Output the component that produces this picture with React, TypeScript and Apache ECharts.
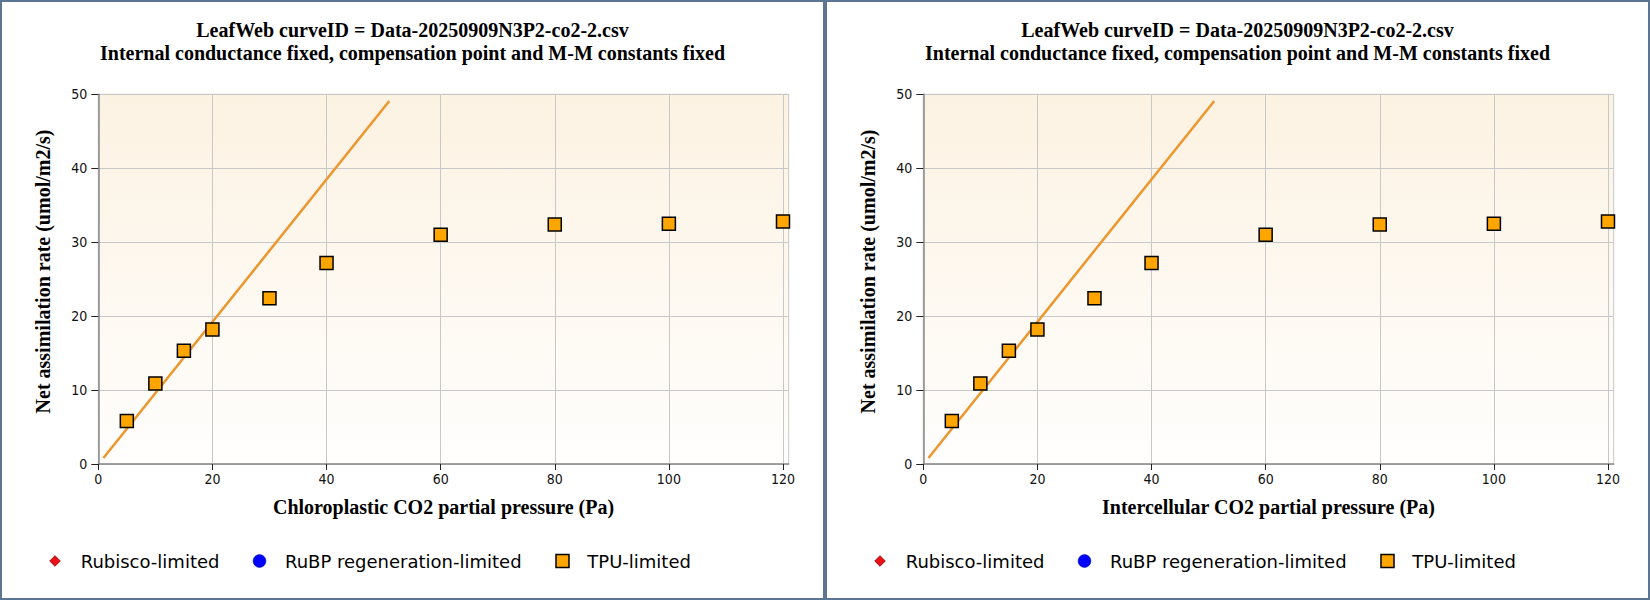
import React, { useEffect, useRef } from "react";
import * as echarts from "echarts";

const pressureValues = [5, 10, 15, 20, 30, 40, 60, 80, 100, 120];
const assimilationValues = [5.8, 10.9, 15.3, 18.2, 22.4, 27.2, 31.0, 32.4, 32.5, 32.8];
const limitLineX = [0.9, 51];
const limitLineY = [0.8, 49.1];
const xTicks = [0, 20, 40, 60, 80, 100, 120];
const yTicks = [0, 10, 20, 30, 40, 50];
const titleLine1 = "LeafWeb curveID = Data-20250909N3P2-co2-2.csv";
const titleLine2 = "Internal conductance fixed, compensation point and M-M constants fixed";
const xAxisNames = ["Chloroplastic CO2 partial pressure (Pa)", "Intercellular CO2 partial pressure (Pa)"];
const yAxisName = "Net assimilation rate (umol/m2/s)";
const legendNames = ["Rubisco-limited", "RuBP regeneration-limited", "TPU-limited"];

const PANEL_W = 825;
const GRID_L = 98.3;
const GRID_T = 94.3;
const GRID_W = 690.4;
const GRID_H = 369.7;
const BORDER = "#5b7593";
const SERIF = "'Liberation Serif', 'Times New Roman', serif";
const SANS = "'DejaVu Sans', Verdana, sans-serif";
const TICKFONT = "'DejaVu Sans Condensed', 'DejaVu Sans', sans-serif";

export default function App() {
  const ref = useRef<HTMLDivElement>(null);
  useEffect(() => {
    if (!ref.current) return;
    const chart = echarts.init(ref.current, undefined, { renderer: "svg" });
    const panels = [0, 1];
    const grids = panels.map((i) => ({
      left: GRID_L + i * PANEL_W,
      top: GRID_T,
      width: GRID_W,
      height: GRID_H,
      show: true,
      borderColor: "#c8c8c8",
      borderWidth: 1,
      backgroundColor: new echarts.graphic.LinearGradient(0, 0, 0, 1, [
        { offset: 0, color: "#fcf2e2" },
        { offset: 1, color: "#fffefd" },
      ]),
    }));
    const xAxes = panels.map((i) => ({
      type: "value",
      gridIndex: i,
      min: 0,
      max: 121,
      interval: 20,
      axisLine: { show: true, onZero: false, lineStyle: { color: "#8a8a8a", width: 1.5 } },
      axisTick: { show: true, length: 6, customValues: xTicks, lineStyle: { color: "#222" } },
      axisLabel: {
        customValues: xTicks,
        margin: 8,
        fontFamily: TICKFONT,
        fontSize: 14,
        color: "#111",
      },
      splitLine: { show: true, lineStyle: { color: "#c8c8c8", width: 1 } },
    }));
    const yAxes = panels.map((i) => ({
      type: "value",
      gridIndex: i,
      min: yTicks[0],
      max: yTicks[yTicks.length - 1],
      interval: 10,
      axisLine: { show: true, onZero: false, lineStyle: { color: "#8a8a8a", width: 1.5 } },
      axisTick: { show: true, length: 7, lineStyle: { color: "#222" } },
      axisLabel: { margin: 11, fontFamily: TICKFONT, fontSize: 14, color: "#111" },
      splitLine: { show: true, lineStyle: { color: "#c8c8c8", width: 1 } },
    }));
    const series: any[] = [];
    panels.forEach((i) => {
      series.push({
        type: "line",
        xAxisIndex: i,
        yAxisIndex: i,
        data: limitLineX.map((x, k) => [x, limitLineY[k]]),
        symbol: "none",
        showSymbol: false,
        lineStyle: { color: "#ec962e", width: 2.5 },
        z: 2,
      });
      series.push({
        type: "scatter",
        xAxisIndex: i,
        yAxisIndex: i,
        data: pressureValues.map((x, k) => [x, assimilationValues[k]]),
        symbol: "rect",
        symbolSize: 13,
        clip: false,
        itemStyle: { color: "#ffa500", borderColor: "#000", borderWidth: 1.5, opacity: 1 },
        z: 3,
      });
    });

    const graphics: any[] = [];
    panels.forEach((i) => {
      const off = i * PANEL_W;
      graphics.push({
        type: "rect",
        shape: { x: off + 1, y: 1, width: PANEL_W - 2, height: 598 },
        style: { fill: "none", stroke: BORDER, lineWidth: 2 },
        silent: true,
        z: 10,
      });
      graphics.push({
        type: "text",
        x: off + 412.5,
        y: 29.5,
        style: {
          text: titleLine1,
          font: `bold 20px ${SERIF}`,
          fill: "#000",
          textAlign: "center",
          textVerticalAlign: "middle",
        },
      });
      graphics.push({
        type: "text",
        x: off + 412.5,
        y: 52.8,
        style: {
          text: titleLine2,
          font: `bold 20px ${SERIF}`,
          fill: "#000",
          textAlign: "center",
          textVerticalAlign: "middle",
        },
      });
      graphics.push({
        type: "text",
        x: off + GRID_L + GRID_W / 2,
        y: 506.5,
        style: {
          text: xAxisNames[i],
          font: `bold 20px ${SERIF}`,
          fill: "#000",
          textAlign: "center",
          textVerticalAlign: "middle",
        },
      });
      graphics.push({
        type: "text",
        x: off + 42.5,
        y: 271.5,
        rotation: Math.PI / 2,
        style: {
          text: yAxisName,
          font: `bold 20px ${SERIF}`,
          fill: "#000",
          textAlign: "center",
          textVerticalAlign: "middle",
        },
      });
      // legend
      const ly = 561;
      graphics.push({
        type: "polygon",
        shape: { points: [[off + 55, ly - 5.3], [off + 60.3, ly], [off + 55, ly + 5.3], [off + 49.7, ly]] },
        style: { fill: "#ea1018", stroke: "#8b0000", lineWidth: 0.8 },
      });
      graphics.push({
        type: "circle",
        shape: { cx: off + 259.5, cy: ly, r: 6.4 },
        style: { fill: "#0000ff", stroke: "#00008b", lineWidth: 0.5 },
      });
      graphics.push({
        type: "rect",
        shape: { x: off + 556, y: ly - 6.5, width: 13, height: 13 },
        style: { fill: "#ffa500", stroke: "#000", lineWidth: 1.5 },
      });
      const textX = [80.7, 285, 587.3];
      legendNames.forEach((name, k) => {
        graphics.push({
          type: "text",
          x: off + textX[k],
          y: ly,
          style: {
            text: name,
            font: `18px ${SANS}`,
            fill: "#000",
            textAlign: "left",
            textVerticalAlign: "middle",
          },
        });
      });
    });

    chart.setOption({
      animation: false,
      backgroundColor: "#ffffff",
      grid: grids,
      xAxis: xAxes,
      yAxis: yAxes,
      series,
      graphic: graphics,
    });
    return () => chart.dispose();
  }, []);
  return (
    <div
      ref={ref}
      style={{ position: "absolute", left: 0, top: 0, width: 1650, height: 600 }}
    />
  );
}
